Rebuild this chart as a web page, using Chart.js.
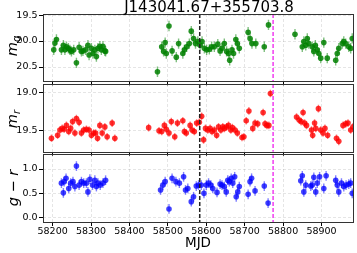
<!DOCTYPE html>
<html lang="en">
<head>
    <meta charset="UTF-8">
    <title>J143041.67+355703.8</title>
    <script src="https://cdn.jsdelivr.net/npm/chart.js"></script>
    <style>
        body { margin: 0; background: #fff; font-family: "DejaVu Sans", sans-serif; }
        #wrap { position: relative; width: 357px; height: 253px; }
        #wrap canvas { position: absolute; left: 0; top: 0; }
        .title { position: absolute; top: -2.4px; left: 209px; transform: translateX(-50%); font-size: 15px; white-space: nowrap; color: #000; }
        .ylab { position: absolute; left: 13px; font-size: 14.5px; white-space: nowrap; color: #000; transform: translate(-50%, -50%) rotate(-90deg); }
        .ylab i { font-style: italic; }
        .ylab sub { font-size: 10px; }
    </style>
</head>
<body>
    <div id="wrap">
        <canvas id="gPanel" width="357" height="253"></canvas>
        <canvas id="rPanel" width="357" height="253"></canvas>
        <canvas id="grPanel" width="357" height="253"></canvas>
        <div class="title">J143041.67+355703.8</div>
        <div class="ylab" style="top:46px"><i>m</i><sub><i>g</i></sub></div>
        <div class="ylab" style="top:119px"><i>m</i><sub><i>r</i></sub></div>
        <div class="ylab" style="top:188px"><i>g</i> &minus; <i>r</i></div>
    </div>

    <script>
        // tick labels
        const xTicks = [58200, 58300, 58400, 58500, 58600, 58700, 58800, 58900];
        const gTicks = [19.5, 20.0, 20.5];
        const rTicks = [19.0, 19.5];
        const grTicks = [0.0, 0.5, 1.0];

        // marker lines (MJD)
        const eventMjd = 58583;
        const flareMjd = 58774;

        // g band
        const gMjd = [58203, 58206, 58210, 58223, 58228, 58232, 58236, 58241, 58245, 58249,
            58255, 58262, 58269, 58275, 58279, 58286, 58292, 58295, 58301, 58305,
            58310, 58314, 58318, 58323, 58327, 58331, 58336, 58338,
            58473, 58484, 58489, 58493, 58496, 58503, 58511, 58522, 58528, 58539,
            58543, 58549, 58556, 58561, 58567, 58572, 58578, 58584, 58589, 58595,
            58601, 58608, 58614, 58621, 58630, 58636, 58641, 58647, 58653, 58658,
            58661, 58667, 58671, 58677, 58681, 58686, 58709, 58714, 58719, 58729,
            58751, 58762,
            58831, 58850, 58854, 58859, 58863, 58867, 58876, 58880, 58884, 58889,
            58893, 58898, 58906, 58915, 58937, 58941, 58945, 58954, 58958, 58963,
            58971, 58976, 58980];
        const gMag = [20.17, 20.04, 19.97, 20.17, 20.08, 20.17, 20.11, 20.14, 20.17, 20.20,
            20.17, 20.42, 20.12, 20.20, 20.19, 20.17, 20.08, 20.27, 20.14, 20.24,
            20.17, 20.30, 20.14, 20.10, 20.17, 20.10, 20.19, 20.20,
            20.59, 20.11, 20.20, 20.03, 20.24, 19.71, 20.19, 20.31, 20.05, 20.24,
            20.17, 20.11, 20.05, 19.81, 19.95, 20.05, 20.01, 20.08, 20.01, 20.14,
            20.17, 20.16, 20.11, 20.11, 20.06, 20.19, 20.14, 20.05, 20.20, 20.24,
            20.37, 20.17, 20.24, 19.97, 20.05, 20.14, 19.83, 19.95, 20.05, 20.05,
            20.11, 19.69,
            19.87, 20.11, 20.01, 20.08, 19.95, 20.05, 20.11, 20.20, 20.08, 20.17,
            20.24, 20.33, 20.03, 20.33, 20.37, 20.24, 20.14, 20.05, 20.01, 20.05,
            20.11, 20.14, 19.95];
        const gErr = 0.1;

        // r band
        const rMjd = [58197, 58213, 58219, 58225, 58230, 58236, 58242, 58247, 58252, 58258,
            58262, 58269, 58275, 58281, 58288, 58295, 58301, 58307, 58312, 58317,
            58323, 58329, 58336, 58342, 58355, 58362,
            58450, 58477, 58484, 58491, 58496, 58503, 58509, 58518, 58525, 58539,
            58543, 58548, 58558, 58563, 58569, 58575, 58582, 58588, 58593, 58598,
            58604, 58610, 58615, 58621, 58627, 58632, 58638, 58643, 58647, 58653,
            58658, 58664, 58668, 58675, 58681, 58693, 58698, 58704, 58711, 58721,
            58727, 58734, 58748, 58753, 58758, 58763, 58767,
            58835, 58842, 58847, 58852, 58856, 58861, 58874, 58877, 58882, 58885,
            58892, 58898, 58904, 58909, 58916, 58939, 58945, 58956, 58963, 58969,
            58976, 58982];
        const rMag = [19.60, 19.56, 19.49, 19.47, 19.48, 19.43, 19.51, 19.47, 19.38, 19.53,
            19.34, 19.39, 19.53, 19.49, 19.48, 19.49, 19.56, 19.53, 19.53, 19.60,
            19.43, 19.53, 19.45, 19.58, 19.40, 19.60,
            19.46, 19.50, 19.51, 19.43, 19.48, 19.53, 19.38, 19.58, 19.40, 19.37,
            19.51, 19.53, 19.43, 19.49, 19.51, 19.40, 19.39, 19.31, 19.62, 19.47,
            19.49, 19.47, 19.51, 19.49, 19.56, 19.45, 19.49, 19.45, 19.47, 19.45,
            19.43, 19.49, 19.46, 19.49, 19.53, 19.59, 19.58, 19.37, 19.24, 19.47,
            19.40, 19.41, 19.26, 19.41, 19.43, 19.43, 19.01,
            19.32, 19.36, 19.38, 19.26, 19.40, 19.43, 19.49, 19.56, 19.40, 19.47,
            19.21, 19.49, 19.53, 19.47, 19.56, 19.60, 19.64, 19.43, 19.41, 19.40,
            19.49, 19.45];
        const rErr = 0.05;

        // g - r colour
        const grMjd = [58223, 58228, 58230, 58235, 58242, 58247, 58253, 58258, 58262, 58269,
            58275, 58281, 58288, 58292, 58297, 58304, 58310, 58314, 58318, 58324,
            58331, 58338,
            58481, 58487, 58493, 58503, 58511, 58521, 58530, 58541, 58546, 58552,
            58561, 58567, 58574, 58580, 58587, 58594, 58600, 58606, 58612, 58617,
            58628, 58636, 58641, 58647, 58652, 58656, 58660, 58665, 58669, 58674,
            58678, 58682, 58686, 58709, 58714, 58718, 58727, 58751, 58761,
            58846, 58850, 58854, 58859, 58872, 58876, 58880, 58885, 58889, 58895,
            58906, 58912, 58937, 58941, 58945, 58952, 58958, 58964, 58971, 58976,
            58980];
        const grVal = [0.71, 0.51, 0.74, 0.81, 0.60, 0.71, 0.74, 0.64, 1.06, 0.67,
            0.74, 0.71, 0.71, 0.53, 0.79, 0.67, 0.77, 0.64, 0.71, 0.67,
            0.71, 0.77,
            0.57, 0.67, 0.74, 0.18, 0.81, 0.74, 0.71, 0.84, 0.57, 0.60,
            0.33, 0.43, 0.65, 0.67, 0.67, 0.50, 0.67, 0.71, 0.67, 0.60,
            0.52, 0.69, 0.67, 0.64, 0.53, 0.77, 0.74, 0.81, 0.71, 0.84,
            0.43, 0.53, 0.64, 0.48, 0.74, 0.81, 0.55, 0.65, 0.30,
            0.76, 0.86, 0.53, 0.67, 0.65, 0.67, 0.83, 0.53, 0.71, 0.84,
            0.60, 0.86, 0.77, 0.67, 0.53, 0.71, 0.64, 0.67, 0.69, 0.71,
            0.50];
        const grErr = 0.1;

        const tickFont = { family: 'DejaVu Sans', size: 9.5 };

        // error bars, frame and the two dashed MJD markers
        const panelDecor = {
            id: 'panelDecor',
            beforeDatasetsDraw(chart, args, opts) {
                const { ctx, chartArea: a, scales: { x, y } } = chart;
                ctx.save();
                ctx.beginPath();
                ctx.rect(a.left, a.top, a.width, a.height);
                ctx.clip();
                ctx.strokeStyle = opts.barColor;
                ctx.lineWidth = 1.4;
                chart.data.datasets[0].data.forEach(p => {
                    const px = x.getPixelForValue(p.x);
                    ctx.beginPath();
                    ctx.moveTo(px, y.getPixelForValue(p.y - opts.err));
                    ctx.lineTo(px, y.getPixelForValue(p.y + opts.err));
                    ctx.stroke();
                });
                ctx.restore();
            },
            afterDatasetsDraw(chart) {
                const { ctx, chartArea: a, scales: { x } } = chart;
                ctx.save();
                ctx.lineWidth = 1.5;
                ctx.setLineDash([4, 2]);
                [[eventMjd, '#222'], [flareMjd, '#f03cf0']].forEach(([m, c]) => {
                    const px = x.getPixelForValue(m);
                    ctx.strokeStyle = c;
                    ctx.beginPath();
                    ctx.moveTo(px, a.top);
                    ctx.lineTo(px, a.bottom);
                    ctx.stroke();
                });
                ctx.setLineDash([]);
                ctx.lineWidth = 1;
                ctx.strokeStyle = '#333';
                ctx.strokeRect(Math.round(a.left) + 0.5, Math.round(a.top) + 0.5,
                    Math.round(a.width), Math.round(a.height));
                ctx.restore();
            }
        };

        function makePanel(id, cfg) {
            return new Chart(document.getElementById(id), {
                type: 'scatter',
                data: {
                    datasets: [{
                        data: cfg.mjd.map((m, i) => ({ x: m, y: cfg.val[i] })),
                        backgroundColor: cfg.color,
                        borderWidth: 0,
                        pointRadius: 2.8
                    }]
                },
                options: {
                    responsive: false,
                    animation: false,
                    events: [],
                    layout: { padding: { top: cfg.top, bottom: cfg.bottom, left: 0, right: 2 } },
                    plugins: {
                        legend: { display: false },
                        tooltip: { enabled: false },
                        panelDecor: { err: cfg.err, barColor: cfg.barColor }
                    },
                    scales: {
                        x: {
                            type: 'linear',
                            min: 58175,
                            max: 58982,
                            afterBuildTicks: s => { s.ticks = xTicks.map(v => ({ value: v })); },
                            afterFit: s => { s.height = cfg.xHeight; },
                            ticks: {
                                display: cfg.xLabels,
                                font: tickFont,
                                color: '#000',
                                padding: 0,
                                maxRotation: 0,
                                callback: v => String(v)
                            },
                            grid: { color: 'rgba(0,0,0,0.13)', lineWidth: 0.8, tickLength: 4, tickColor: '#000', tickWidth: 1 },
                            border: { display: false, dash: [3, 2] },
                            title: {
                                display: cfg.xLabels,
                                text: 'MJD',
                                color: '#000',
                                font: { family: 'DejaVu Sans', size: 13.5 },
                                padding: { top: 0, bottom: 1.5 }
                            }
                        },
                        y: {
                            type: 'linear',
                            min: cfg.min,
                            max: cfg.max,
                            reverse: cfg.reverse,
                            afterBuildTicks: s => { s.ticks = cfg.ticks.map(v => ({ value: v })); },
                            afterFit: s => { s.width = 43; },
                            ticks: { font: tickFont, color: '#000', padding: 1.5, callback: v => v.toFixed(1) },
                            grid: { color: 'rgba(0,0,0,0.13)', lineWidth: 0.8, tickLength: 4, tickColor: '#000', tickWidth: 1 },
                            border: { display: false, dash: [3, 2] }
                        }
                    }
                },
                plugins: [panelDecor]
            });
        }

        makePanel('gPanel', {
            mjd: gMjd, val: gMag, err: gErr, ticks: gTicks,
            min: 19.48, max: 20.775, reverse: true,
            color: 'rgba(0,128,0,0.85)', barColor: 'rgba(0,128,0,0.5)',
            top: 14, bottom: 253 - 81.3 - 4, xHeight: 4, xLabels: false
        });

        makePanel('rPanel', {
            mjd: rMjd, val: rMag, err: rErr, ticks: rTicks,
            min: 18.886, max: 19.776, reverse: true,
            color: 'rgba(255,0,0,0.8)', barColor: 'rgba(255,0,0,0.5)',
            top: 84, bottom: 253 - 151.7 - 4, xHeight: 4, xLabels: false
        });

        makePanel('grPanel', {
            mjd: grMjd, val: grVal, err: grErr, ticks: grTicks,
            min: -0.088, max: 1.308, reverse: false,
            color: 'rgba(0,0,255,0.75)', barColor: 'rgba(0,0,255,0.5)',
            top: 154, bottom: 0, xHeight: 31, xLabels: true
        });
    </script>
</body>
</html>
